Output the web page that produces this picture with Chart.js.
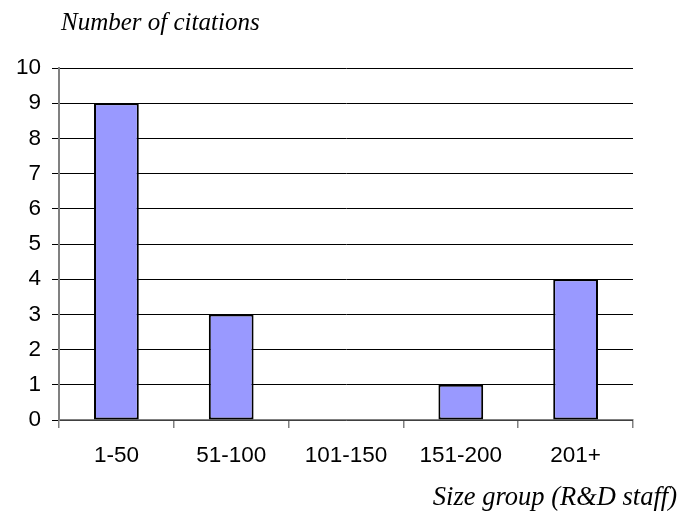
<!DOCTYPE html>
<html>
<head>
<meta charset="utf-8">
<script src="https://cdn.jsdelivr.net/npm/chart.js@4/dist/chart.umd.min.js"></script>
<style>
  html, body { margin: 0; padding: 0; background: #ffffff; }
  #wrap { width: 692px; height: 518px; position: relative; }
</style>
</head>
<body>
<div id="wrap"><canvas id="c" width="692" height="518"></canvas></div>
<script>
// Citations by size group of R&D staff
const sizeGroups = ['1-50', '51-100', '101-150', '151-200', '201+'];
const citations = [9, 3, 0, 1, 4];
const yTicks = [0, 1, 2, 3, 4, 5, 6, 7, 8, 9, 10];

const yAxisTitle = 'Number of citations';
const xAxisTitle = 'Size group (R&D staff)';

const axisTitles = {
  id: 'axisTitles',
  afterDraw(chart) {
    const ctx = chart.ctx;
    ctx.save();
    ctx.fillStyle = '#000000';
    ctx.textBaseline = 'alphabetic';
    ctx.font = 'italic 25px "Liberation Serif", "Times New Roman", serif';
    ctx.textAlign = 'left';
    ctx.fillText(yAxisTitle, 61, 30);
    ctx.font = 'italic 26.5px "Liberation Serif", "Times New Roman", serif';
    ctx.textAlign = 'right';
    ctx.fillText(xAxisTitle, 677, 505);
    ctx.restore();
  }
};

new Chart(document.getElementById('c'), {
  type: 'bar',
  data: {
    labels: sizeGroups,
    datasets: [{
      data: citations,
      backgroundColor: '#9999FF',
      borderColor: '#000000',
      borderWidth: ctx => (ctx.raw === 0 ? 0 : 2),
      borderSkipped: false,
      barPercentage: 0.39,
      categoryPercentage: 1
    }]
  },
  options: {
    responsive: false,
    animation: false,
    devicePixelRatio: 1,
    layout: { padding: { top: 68, right: 59, bottom: 0, left: 0 } },
    plugins: { legend: { display: false }, tooltip: { enabled: false }, title: { display: false } },
    scales: {
      x: {
        offset: true,
        grid: {
          display: true,
          drawOnChartArea: false,
          drawTicks: true,
          tickLength: 8,
          tickColor: '#808080',
          lineWidth: 1.5
        },
        border: { display: true, color: '#808080', width: 1.5 },
        ticks: {
          color: '#000000',
          padding: 14,
          font: { family: '"Liberation Sans", Arial, sans-serif', size: 22.5 },
          maxRotation: 0
        },
        afterFit(scale) { scale.height = 98; }
      },
      y: {
        min: 0,
        max: 10,
        afterBuildTicks(scale) { scale.ticks = yTicks.map(v => ({ value: v })); },
        grid: {
          color: '#000000',
          lineWidth: 1,
          drawTicks: true,
          tickLength: 7,
          tickColor: '#000000'
        },
        border: { display: true, color: '#808080', width: 2 },
        ticks: {
          color: '#000000',
          padding: 11,
          font: { family: '"Liberation Sans", Arial, sans-serif', size: 22.5 }
        },
        afterFit(scale) { scale.width = 59; }
      }
    }
  },
  plugins: [axisTitles]
});
</script>
</body>
</html>
